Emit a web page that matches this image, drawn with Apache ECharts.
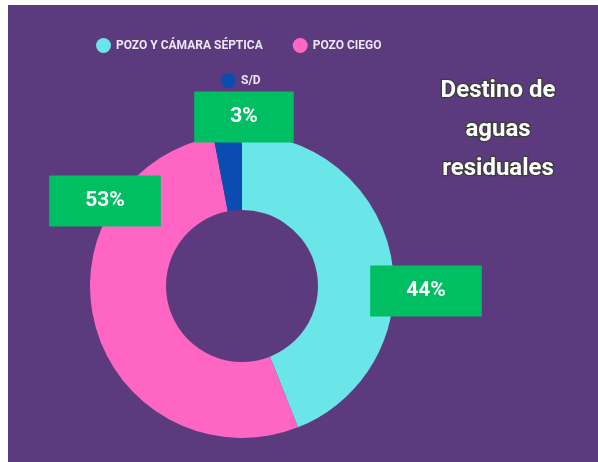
<!DOCTYPE html>
<html>
<head>
<meta charset="utf-8">
<script src="https://cdn.jsdelivr.net/npm/echarts@6/dist/echarts.min.js"></script>
<style>
  html, body { margin: 0; padding: 0; background: #ffffff; }
  #wrap { position: relative; width: 598px; height: 462px; background: #ffffff; overflow: hidden; }
  #chart { position: absolute; left: 8px; top: 5px; width: 590px; height: 457px; }
</style>
</head>
<body>
<div id="wrap"><div id="chart"></div></div>
<script>
// datos
var categories = ['POZO Y CÁMARA SÉPTICA', 'POZO CIEGO', 'S/D'];
var values = [44, 53, 3];
var colors = ['#6ae5e8', '#ff66c4', '#0b4cb0'];
// posiciones de las etiquetas (banderines verdes)
var labelPos = [[418, 286], [97, 196], [236, 112]];

var myChart = echarts.init(document.getElementById('chart'));

var pieData = [];
for (var i = 0; i < categories.length; i++) {
    pieData.push({ name: categories[i], value: values[i], itemStyle: { color: colors[i] } });
}

var legendText = {
    color: '#ece6f2',
    fontSize: 12,
    fontWeight: 'bold',
    fontFamily: 'Roboto'
};

var option = {
    backgroundColor: '#5b3a7e',
    title: {
        text: 'Destino de\naguas\nresiduales',
        left: 485,
        top: 61,
        textAlign: 'center',
        textStyle: {
            color: '#ffffff',
            fontSize: 24,
            fontWeight: 'bold',
            fontFamily: 'Roboto',
            lineHeight: 39,
            textBorderColor: '#3d3d3d',
            textBorderWidth: 2.5
        }
    },
    legend: [{
        data: [categories[0], categories[1]],
        left: 83,
        top: 28,
        icon: 'circle',
        itemWidth: 15,
        itemHeight: 15,
        itemGap: 30,
        textStyle: legendText
    }, {
        data: [categories[2]],
        left: 208,
        top: 63,
        icon: 'circle',
        itemWidth: 15,
        itemHeight: 15,
        textStyle: legendText
    }],
    series: [{
        type: 'pie',
        center: [234, 281],
        radius: [76, 152],
        startAngle: 90,
        clockwise: true,
        avoidLabelOverlap: false,
        label: {
            show: true,
            position: 'outside',
            formatter: '{c}%',
            color: '#ffffff',
            fontSize: 21,
            fontWeight: 'bold',
            fontFamily: 'Roboto',
            backgroundColor: '#00bf63',
            padding: [15, 36]
        },
        labelLine: { show: false },
        labelLayout: function (params) {
            var p = labelPos[params.dataIndex];
            return { x: p[0], y: p[1], align: 'center', verticalAlign: 'middle' };
        },
        emphasis: { disabled: true },
        data: pieData
    }]
};

myChart.setOption(option);
</script>
</body>
</html>
